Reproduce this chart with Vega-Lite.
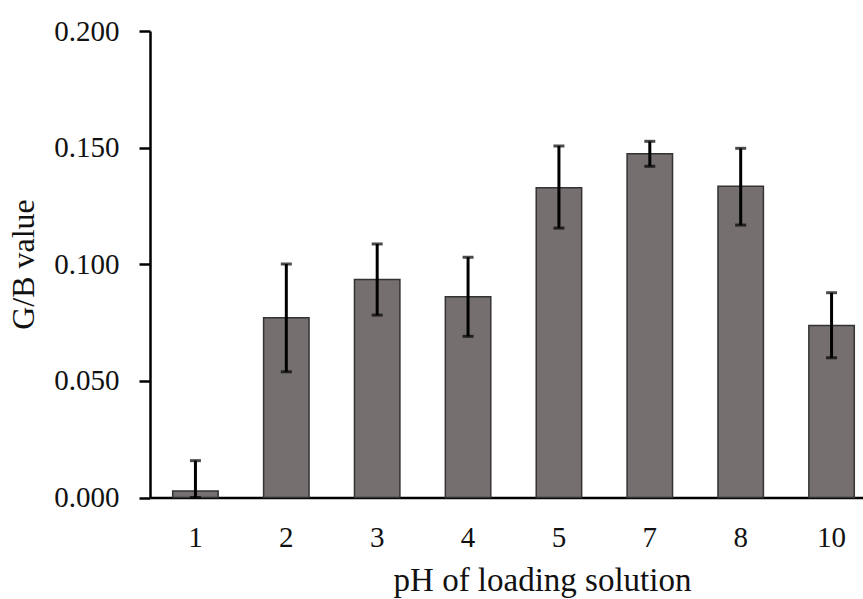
{
  "$schema": "https://vega.github.io/schema/vega-lite/v6.json",
  "autosize": {"type": "none"},
  "padding": {"left": 150, "top": 31, "right": 0, "bottom": 101.5},
  "width": 713,
  "height": 466.5,
  "background": "white",
  "config": {
    "view": {"stroke": null},
    "font": "Liberation Serif",
    "axis": {"labelFont": "Liberation Serif", "titleFont": "Liberation Serif", "labelColor": "#111", "titleColor": "#111", "titleFontWeight": "normal", "grid": false, "domainColor": "black", "domainWidth": 2.5, "tickColor": "black", "tickWidth": 2.5}
  },
  "data": {
    "values": [
      {"pH": "1", "value": 0.0028, "lo": 0.0, "hi": 0.0158},
      {"pH": "2", "value": 0.0771, "lo": 0.0539, "hi": 0.1001},
      {"pH": "3", "value": 0.0935, "lo": 0.0782, "hi": 0.1087},
      {"pH": "4", "value": 0.0861, "lo": 0.0691, "hi": 0.1030},
      {"pH": "5", "value": 0.1328, "lo": 0.1155, "hi": 0.1507},
      {"pH": "7", "value": 0.1474, "lo": 0.1420, "hi": 0.1527},
      {"pH": "8", "value": 0.1334, "lo": 0.1168, "hi": 0.1497},
      {"pH": "10", "value": 0.0737, "lo": 0.0599, "hi": 0.0878}
    ]
  },
  "encoding": {
    "x": {
      "field": "pH", "type": "nominal", "sort": null,
      "scale": {"range": [0, 727], "paddingInner": 0.5, "paddingOuter": 0.25},
      "axis": {
        "title": "pH of loading solution", "labelAngle": 0, "ticks": false, "tickSize": 0,
        "labelFontSize": 29, "labelBaseline": "alphabetic", "labelPadding": 48.5,
        "titleFontSize": 33, "titleX": 392, "titleY": 92.5, "titleBaseline": "alphabetic", "titleAnchor": "middle", "titleAlign": "center"
      }
    }
  },
  "layer": [
    {
      "mark": {"type": "bar", "color": "#756f6f", "stroke": "#333333", "strokeWidth": 1.5},
      "encoding": {
        "y": {
          "field": "value", "type": "quantitative",
          "scale": {"domain": [0, 0.2], "nice": false},
          "axis": {
            "title": "G/B value", "values": [0, 0.05, 0.1, 0.15, 0.2], "format": ".3f",
            "tickSize": 11, "labelPadding": 20, "labelFontSize": 29,
            "titleFontSize": 32, "titleX": -117, "titleY": 233, "titleBaseline": "alphabetic", "titleAngle": 270, "titleAlign": "center"
          }
        }
      }
    },
    {
      "mark": {"type": "rule", "color": "black", "strokeWidth": 3},
      "encoding": {"y": {"field": "lo", "type": "quantitative"}, "y2": {"field": "hi"}}
    },
    {
      "mark": {"type": "tick", "color": "black", "thickness": 3, "size": 11},
      "encoding": {"y": {"field": "hi", "type": "quantitative"}}
    },
    {
      "mark": {"type": "tick", "color": "black", "thickness": 3, "size": 11},
      "encoding": {"y": {"field": "lo", "type": "quantitative"}}
    }
  ]
}
